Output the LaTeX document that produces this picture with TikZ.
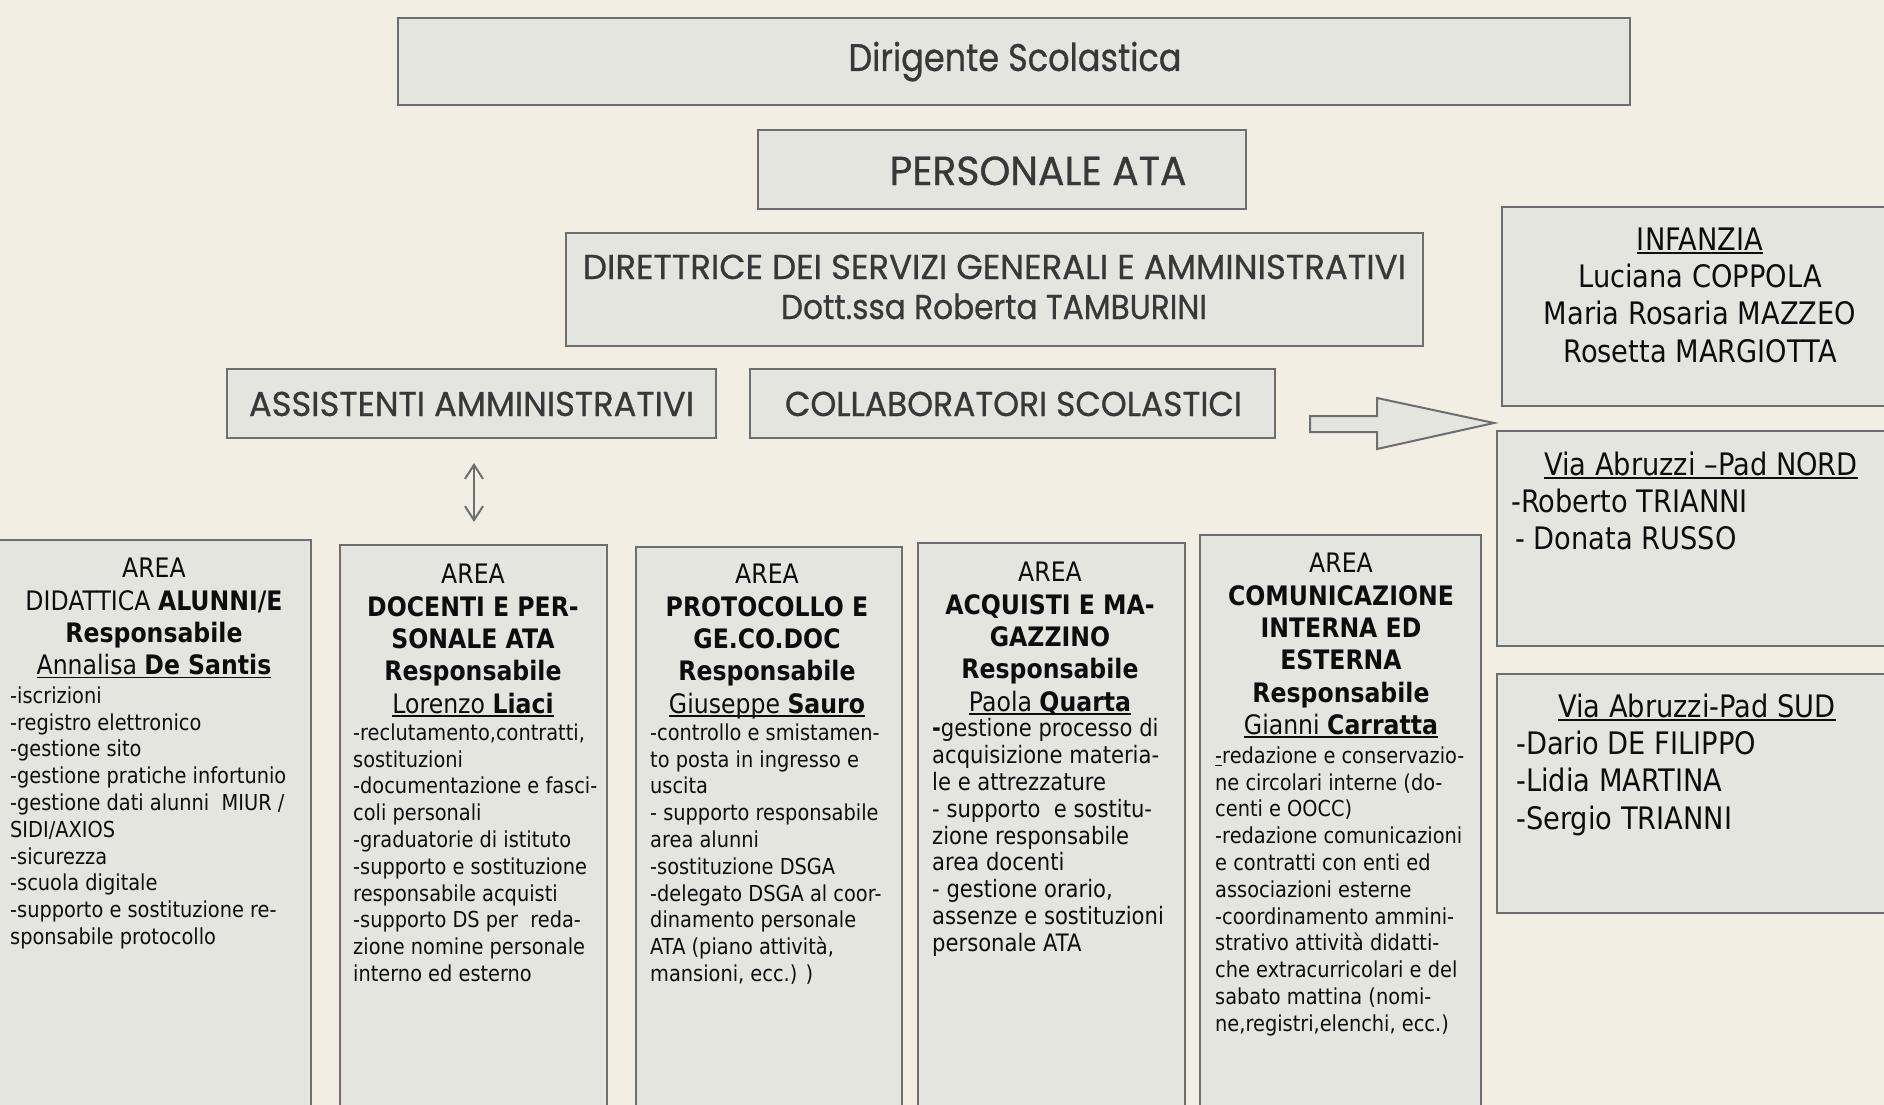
\documentclass[tikz,border=0pt]{standalone}
\usepackage{fontspec}
\usepackage{graphicx}
\usetikzlibrary{arrows.meta}
\newfontfamily\futu[FakeBold=0.8]{Poppins}
\newfontfamily\tah[FakeStretch=0.88]{DejaVu Sans}
\definecolor{bgc}{HTML}{F2EEE4}
\definecolor{boxfill}{HTML}{E5E5E0}
\definecolor{boxline}{HTML}{6E6E6E}
\definecolor{toptext}{HTML}{383838}
\definecolor{bodytext}{HTML}{0D0D0D}
\newcommand\undl[1]{\setbox0\hbox{#1}\rlap{\rule[-0.13em]{\wd0}{0.065em}}\box0}
\newcommand\fitw[2]{\resizebox{#1}{\height}{#2}}
\begin{document}
\begin{tikzpicture}[x=1pt,y=-1pt,
  box/.style={draw=boxline, fill=boxfill, line width=2pt, inner sep=0pt, outer sep=0pt, anchor=north west},
  toptxt/.style={inner sep=0pt, anchor=base, text=toptext, font=\futu\fontsize{#1}{#1}\selectfont},
  areatitle/.style={inner sep=0pt, anchor=north, align=center, text=bodytext, font=\tah\fontsize{26.8}{32.3}\selectfont},
  areabody/.style={inner sep=0pt, anchor=north west, align=left, text=bodytext, font=\tah\fontsize{#1}{26.8}\selectfont},
  sidetitle/.style={inner sep=0pt, anchor=north, align=center, text=bodytext, font=\tah\fontsize{31}{37.2}\selectfont},
  sidebody/.style={inner sep=0pt, anchor=north west, align=left, text=bodytext, font=\tah\fontsize{31}{37.2}\selectfont},
  dblarrow/.style={draw=boxline, line width=2pt, {Straight Barb[length=14pt,width=18pt]}-{Straight Barb[length=14pt,width=18pt]}},
  blockarrow/.style={draw=boxline, fill=boxfill, line width=2pt, line join=miter}
]
\useasboundingbox (0,0) rectangle (1884,1105);
\clip (0,0) rectangle (1884,1105);
\fill[bgc] (0,0) rectangle (1884,1105);

% top boxes
\node[box, minimum width=1232, minimum height=87] (ds) at (398,18) {};
\node[toptxt=38.5] (dstxt) at (1015,71) {\fitw{333pt}{Dirigente Scolastica}};

\node[box, minimum width=488, minimum height=79] (pata) at (758,130) {};
\node[toptxt=40.5] (patatxt) at (1038,185) {\fitw{297pt}{PERSONALE ATA}};

\node[box, minimum width=857, minimum height=113] (dsga) at (566,233) {};
\node[toptxt=34.5] (dsgaone) at (994.5,279) {\fitw{823pt}{DIRETTRICE DEI SERVIZI GENERALI E AMMINISTRATIVI}};
\node[toptxt=34.5] (dsgatwo) at (994,319) {\fitw{426pt}{Dott.ssa Roberta TAMBURINI}};

\node[box, minimum width=489, minimum height=69] (assist) at (227,369) {};
\node[toptxt=34.5] (assisttxt) at (471.5,416) {\fitw{445pt}{ASSISTENTI AMMINISTRATIVI}};

\node[box, minimum width=525, minimum height=69] (collab) at (750,369) {};
\node[toptxt=34.5] (collabtxt) at (1013.5,416) {\fitw{457pt}{COLLABORATORI SCOLASTICI}};

% arrows
\coordinate (datop) at (474,463);
\coordinate (dabot) at (474,522);
\draw[dblarrow] (datop) -- (dabot);
\draw[blockarrow] (1310,416) -- (1377,416) -- (1377,398) -- (1494,423) -- (1377,449) -- (1377,432) -- (1310,432) -- cycle;

% right boxes
\node[box, minimum width=398, minimum height=199] (inf) at (1502,207) {};
\node[sidetitle] (inftxt) at (1700,225.4) {\rule{0pt}{0.8em}\undl{INFANZIA}\\Luciana COPPOLA\\Maria Rosaria MAZZEO\\Rosetta MARGIOTTA};

\node[box, minimum width=403, minimum height=215] (nord) at (1497,431) {};
\node[sidetitle] (nordtitle) at (1701,450.4) {\rule{0pt}{0.8em}\undl{Via Abruzzi –Pad NORD}};
\node[sidebody] (nordbody) at (1511,487.6) {\rule{0pt}{0.8em}-Roberto TRIANNI\\\hspace*{4pt}- Donata RUSSO};

\node[box, minimum width=403, minimum height=239] (sud) at (1497,674) {};
\node[sidetitle] (sudtitle) at (1697,692.4) {\rule{0pt}{0.8em}\undl{Via Abruzzi-Pad SUD}};
\node[sidebody] (sudbody) at (1516,729.6) {\rule{0pt}{0.8em}-Dario DE FILIPPO\\-Lidia MARTINA\\-Sergio TRIANNI};

% area boxes
\node[box, minimum width=316, minimum height=600] (a1) at (-5,540) {};
\node[areatitle] (a1t) at (154,556.3) {\rule{0pt}{0.8em}AREA\\DIDATTICA \textbf{ALUNNI/E}\\\textbf{Responsabile}\\\undl{Annalisa \textbf{De Santis}}};
\node[areabody=22] (a1b) at (10,685.5) {\rule{0pt}{0.8em}-iscrizioni\\-registro elettronico\\-gestione sito\\-gestione pratiche infortunio\\-gestione dati alunni\ \ MIUR /\\SIDI/AXIOS\\-sicurezza\\-scuola digitale\\-supporto e sostituzione re-\\sponsabile protocollo};

\node[box, minimum width=267, minimum height=600] (a2) at (340,545) {};
\node[areatitle] (a2t) at (473,562.3) {\rule{0pt}{0.8em}AREA\\\textbf{DOCENTI E PER-}\\\textbf{SONALE ATA}\\\textbf{Responsabile}\\\undl{Lorenzo \textbf{Liaci}}};
\node[areabody=22] (a2b) at (353,722.5) {\rule{0pt}{0.8em}-reclutamento,contratti,\\sostituzioni\\-documentazione e fasci-\\coli personali\\-graduatorie di istituto\\-supporto e sostituzione\\responsabile acquisti\\-supporto DS per\ \ reda-\\zione nomine personale\\interno ed esterno};

\node[box, minimum width=266, minimum height=600] (a3) at (636,547) {};
\node[areatitle] (a3t) at (767,562.3) {\rule{0pt}{0.8em}AREA\\\textbf{PROTOCOLLO E}\\\textbf{GE.CO.DOC}\\\textbf{Responsabile}\\\undl{Giuseppe \textbf{Sauro}}};
\node[areabody=22] (a3b) at (650,722.5) {\rule{0pt}{0.8em}-controllo e smistamen-\\to posta in ingresso e\\uscita\\- supporto responsabile\\area alunni\\-sostituzione DSGA\\-delegato DSGA al coor-\\dinamento personale\\ATA (piano attività,\\mansioni, ecc.) )};

\node[box, minimum width=267, minimum height=600] (a4) at (918,543) {};
\node[areatitle] (a4t) at (1050,560.3) {\rule{0pt}{0.8em}AREA\\\textbf{ACQUISTI E MA-}\\\textbf{GAZZINO}\\\textbf{Responsabile}\\\undl{Paola \textbf{Quarta}}};
\node[areabody=24] (a4b) at (932,717.5) {\rule{0pt}{0.8em}\textbf{-}gestione processo di\\acquisizione materia-\\le e attrezzature\\- supporto\ \ e sostitu-\\zione responsabile\\area docenti\\- gestione orario,\\assenze e sostituzioni\\personale ATA};

\node[box, minimum width=281, minimum height=600] (a5) at (1200,535) {};
\node[areatitle] (a5t) at (1341,551.3) {\rule{0pt}{0.8em}AREA\\\textbf{COMUNICAZIONE}\\\textbf{INTERNA ED}\\\textbf{ESTERNA}\\\textbf{Responsabile}\\\undl{Gianni \textbf{Carratta}}};
\node[areabody=22] (a5b) at (1215,745.5) {\rule{0pt}{0.8em}\undl{-}redazione e conservazio-\\ne circolari interne (do-\\centi e OOCC)\\-redazione comunicazioni\\e contratti con enti ed\\associazioni esterne\\-coordinamento ammini-\\strativo attività didatti-\\che extracurricolari e del\\sabato mattina (nomi-\\ne,registri,elenchi, ecc.)};
\end{tikzpicture}
\end{document}
